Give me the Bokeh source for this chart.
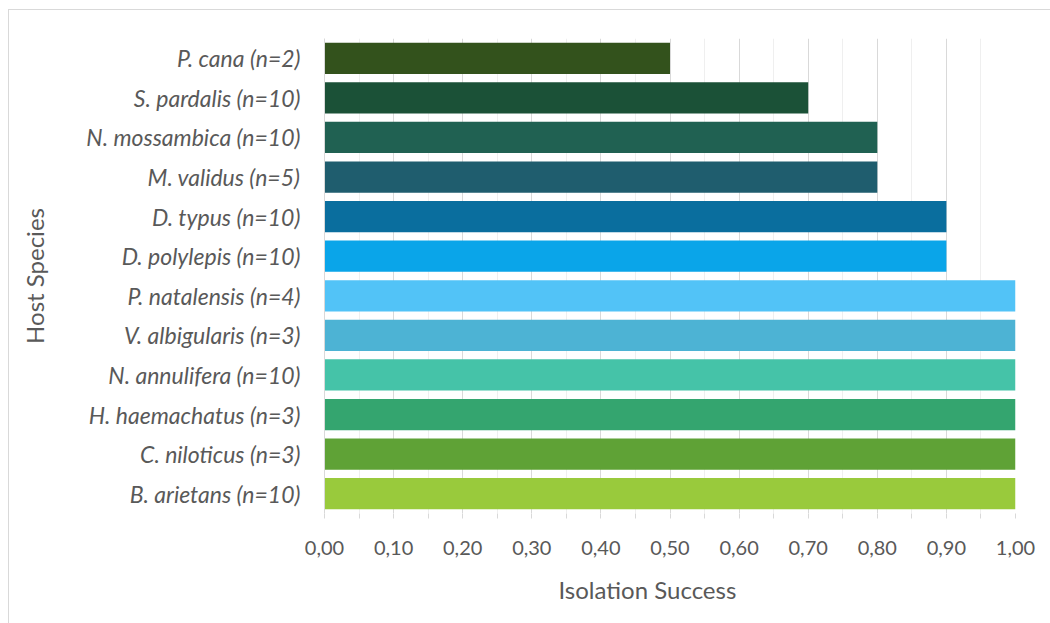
from bokeh.plotting import figure
from bokeh.models import ColumnDataSource, FactorRange, FixedTicker, CustomJSTickFormatter, Title
from bokeh.embed import file_html
from bokeh.resources import INLINE

# Host species, listed top to bottom
species = [
    "P. cana (n=2)",
    "S. pardalis (n=10)",
    "N. mossambica (n=10)",
    "M. validus (n=5)",
    "D. typus (n=10)",
    "D. polylepis (n=10)",
    "P. natalensis (n=4)",
    "V. albigularis (n=3)",
    "N. annulifera (n=10)",
    "H. haemachatus (n=3)",
    "C. niloticus (n=3)",
    "B. arietans (n=10)",
]
success = [0.5, 0.7, 0.8, 0.8, 0.9, 0.9, 1.0, 1.0, 1.0, 1.0, 1.0, 1.0]
colors = [
    "#33521C", "#1B5137", "#206152", "#1F5D6E", "#0A6E9E", "#0AA5E9",
    "#52C3F7", "#4DB3D4", "#45C3A8", "#34A56F", "#5FA236", "#99CA3C",
]
x_ticks = [0.0, 0.1, 0.2, 0.3, 0.4, 0.5, 0.6, 0.7, 0.8, 0.9, 1.0]
x_minor = [0.05, 0.15, 0.25, 0.35, 0.45, 0.55, 0.65, 0.75, 0.85, 0.95]

src = ColumnDataSource(dict(species=species, success=success, color=colors))

TXT = "#595959"
FONT = "Lato"

p = figure(
    width=1042, height=614,
    y_range=FactorRange(factors=list(reversed(species)), range_padding=0),
    x_range=(0, 1.0),
    output_backend="svg", toolbar_location=None,
    min_border_left=315, min_border_right=36, min_border_top=28, min_border_bottom=111,
)
p.margin = (9, 0, 0, 8)
p.styles = {"border-left": "1px solid #d9d9d9", "border-top": "1px solid #d9d9d9"}
p.outline_line_color = None

p.hbar(y="species", right="success", left=0, height=0.79, color="color",
       line_color=None, source=src)

# grid
p.ygrid.grid_line_color = None
p.xgrid.grid_line_color = "#d9d9d9"
p.xgrid.grid_line_width = 1
p.xgrid.minor_grid_line_color = "#efefef"
p.xgrid.level = "underlay"

# x axis
xa = p.xaxis[0]
xa.ticker = FixedTicker(ticks=x_ticks, minor_ticks=x_minor)
xa.formatter = CustomJSTickFormatter(code="return tick.toFixed(2).replace('.', ',');")
xa.axis_line_color = None
xa.major_tick_line_color = "#d9d9d9"
xa.minor_tick_line_color = "#d9d9d9"
xa.major_tick_out = 5
xa.major_tick_in = 0
xa.minor_tick_out = 5
xa.minor_tick_in = 0
xa.major_label_text_font = FONT
xa.major_label_text_font_size = "20px"
xa.major_label_text_color = TXT
xa.major_label_standoff = 22

# x axis title, set slightly left of the frame centre
p.add_layout(Title(text="Isolation Success", align="left", offset=234,
                   text_font=FONT, text_font_size="24px", text_font_style="normal",
                   text_color=TXT, standoff=30), "below")

# y axis
ya = p.yaxis[0]
ya.axis_line_color = "#d9d9d9"
ya.major_tick_line_color = None
ya.minor_tick_line_color = None
ya.major_label_text_font = FONT
ya.major_label_text_font_size = "23px"
ya.major_label_text_font_style = "italic"
ya.major_label_text_color = TXT
ya.major_label_standoff = 18
ya.axis_label = "Host Species"
ya.axis_label_text_font = FONT
ya.axis_label_text_font_size = "24px"
ya.axis_label_text_font_style = "normal"
ya.axis_label_text_color = TXT
ya.axis_label_standoff = 34

open("out.html", "w").write(file_html(p, INLINE))
